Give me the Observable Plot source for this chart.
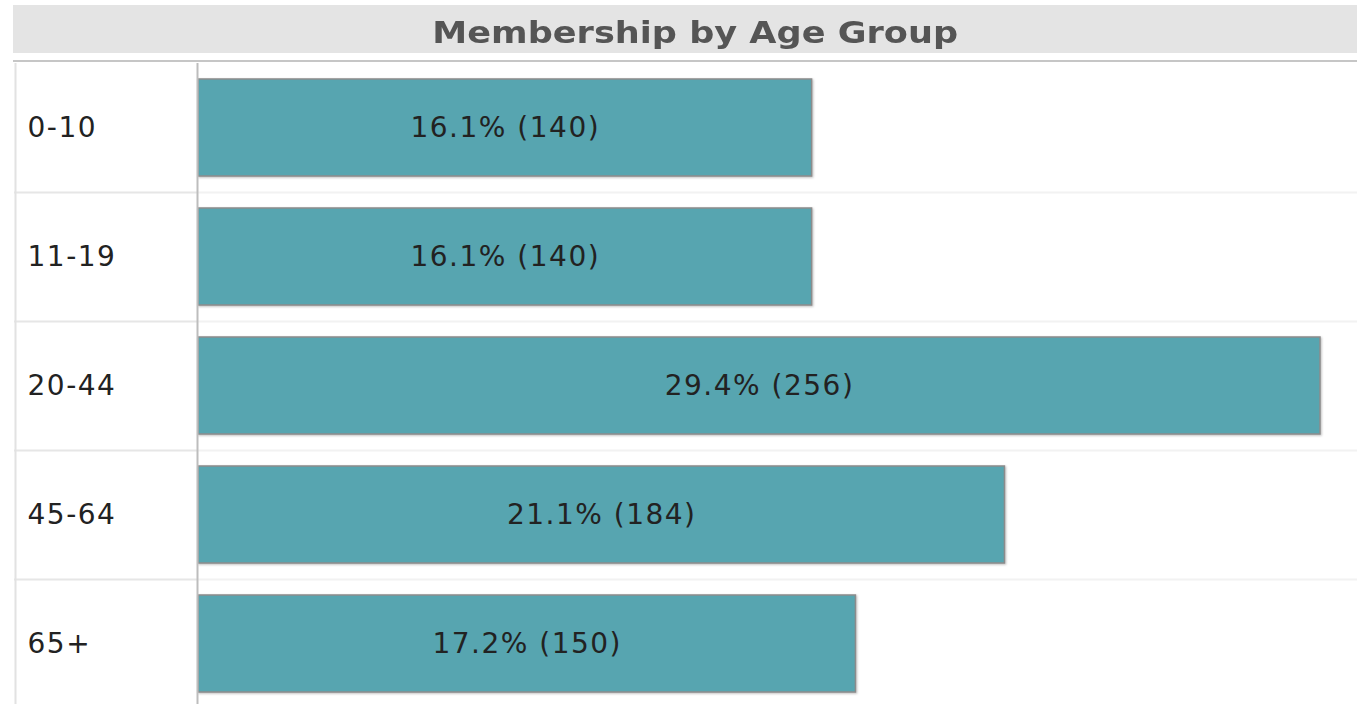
<!DOCTYPE html>
<html>
<head>
<meta charset="utf-8">
<script src="https://cdn.jsdelivr.net/npm/d3@7"></script>
<script src="https://cdn.jsdelivr.net/npm/@observablehq/plot@0.6"></script>
<style>
  html, body { margin: 0; padding: 0; background: #fff; overflow: hidden; width: 1357px; height: 704px; }
  #title {
    position: absolute; left: 13px; top: 5px; width: 1344px; height: 48px; overflow: hidden;
    background: #e4e4e4; color: #555;
    font-family: "DejaVu Sans", Verdana, sans-serif; font-weight: bold; font-size: 30px;
    line-height: 56px; text-align: center;
  }
  #title span { display: inline-block; transform: scaleX(1.17); padding-left: 18px; }
  #rule { position: absolute; left: 13px; top: 60px; width: 1344px; height: 2px; background: #c6c6c6; }
  #chart { position: absolute; left: 0; top: 63px; }
  #chart svg text { letter-spacing: 1.5px; }
  #chart svg g[aria-label="bar"] rect { filter: drop-shadow(1px 1px 1px rgba(0,0,0,0.25)); }
</style>
</head>
<body>
<div id="title"><span>Membership by Age Group</span></div>
<div id="rule"></div>
<div id="chart"></div>
<script>
const categories = ["0-10", "11-19", "20-44", "45-64", "65+"];
const counts = [140, 140, 256, 184, 150];
const percents = [16.1, 16.1, 29.4, 21.1, 17.2];

const data = categories.map((c, i) => ({
  group: c,
  count: counts[i],
  label: `${percents[i].toFixed(1)}% (${counts[i]})`
}));

const W = 1357, H = 645, ML = 198, MR = 37;
const step = H / categories.length;
const innerW = W - ML - MR;

const plot = Plot.plot({
  width: W,
  height: H,
  marginLeft: ML,
  marginRight: MR,
  marginTop: 0,
  marginBottom: 0,
  style: { fontFamily: "'DejaVu Sans', Verdana, sans-serif", fontSize: "28px", color: "#222", background: "transparent" },
  x: { domain: [0, 256], axis: null },
  y: { domain: categories, paddingInner: 0.25, paddingOuter: 0.125, label: null },
  marks: [
    // faint row separators across the plot area
    Plot.ruleY(categories.slice(1), { y: d => d, dy: -step / 2, stroke: "#f2f2f2", strokeWidth: 2, insetRight: -MR }),
    // row separators in the label column
    Plot.ruleY(categories.slice(1), { y: d => d, dy: -step / 2, stroke: "#e6e6e6", strokeWidth: 2, insetLeft: -184, insetRight: innerW + 1 }),
    // left border of the label column
    Plot.ruleX([0], { dx: -183, stroke: "#e2e2e2", strokeWidth: 2 }),
    Plot.barX(data, { x: "count", y: "group", fill: "#57a5b0", stroke: "#8c8c8c", strokeWidth: 1.5 }),
    // separator between labels and bars
    Plot.ruleX([0], { dx: -1, stroke: "#bdbdbd", strokeWidth: 2 }),
    Plot.text(data, { x: d => d.count / 2, y: "group", text: "label", fill: "#222", fontSize: 28 }),
    Plot.axisY({ tickSize: 0, tickPadding: 0, textAnchor: "start", dx: -171, fontSize: 28, fill: "#222" })
  ]
});
document.getElementById("chart").appendChild(plot);
</script>
</body>
</html>
